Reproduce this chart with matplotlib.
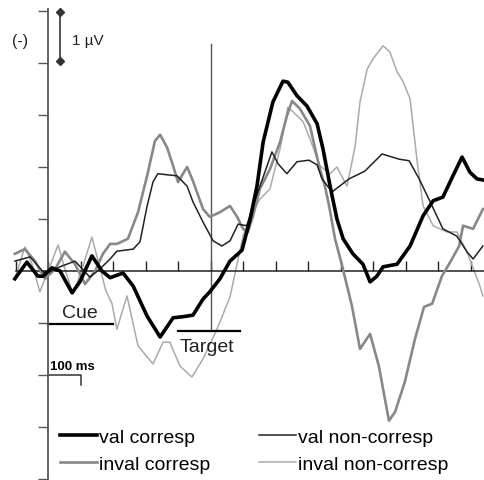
import numpy as np
import matplotlib
matplotlib.use("Agg")
import matplotlib.pyplot as plt

plt.rcParams['font.family'] = ['Liberation Sans', 'DejaVu Sans']

# time in ms, amplitude in microvolts (negative plotted up)
t_val_corr = [-102, -65, -31, -15, 12, 37, 74, 98, 135, 166, 191, 231, 262, 305, 345, 385,
              415, 446, 477, 498, 529, 560, 597, 622, 643, 662, 692, 723, 738, 766, 797,
              828, 846, 868, 889, 908, 938, 969, 991, 1012, 1031, 1074, 1114, 1154, 1185,
              1215, 1246, 1274, 1298, 1320, 1338]
v_val_corr = [0.15, -0.17, 0.10, 0.10, -0.06, 0.00, 0.42, 0.21, -0.29, 0.00, 0.13, 0.04,
              0.29, 0.87, 1.27, 0.90, 0.88, 0.85, 0.54, 0.40, 0.15, -0.19, -0.40, -1.00,
              -1.63, -2.48, -3.25, -3.65, -3.63, -3.37, -3.17, -2.83, -2.35, -1.63, -1.00,
              -0.62, -0.33, -0.13, 0.21, 0.10, -0.08, -0.13, -0.48, -1.06, -1.35, -1.42,
              -1.83, -2.19, -1.90, -1.77, -1.75]

t_val_non = [-102, -55, -9, 37, 83, 129, 160, 191, 212, 262, 283, 305, 323, 338, 366, 397,
             428, 446, 477, 508, 535, 560, 585, 612, 631, 652, 674, 689, 708, 735, 766, 803,
             828, 843, 874, 926, 975, 1028, 1080, 1111, 1142, 1172, 1215, 1258, 1289, 1308,
             1338]
v_val_non = [-0.19, -0.27, 0.06, -0.08, -0.19, 0.12, -0.04, -0.23, -0.38, -0.42, -0.56,
             -1.25, -1.71, -1.87, -1.85, -1.83, -1.63, -1.33, -0.94, -0.58, -0.48, -0.58,
             -0.90, -0.87, -1.25, -1.63, -2.02, -2.29, -2.06, -1.87, -2.10, -2.13, -2.04,
             -1.77, -1.52, -1.77, -1.92, -2.25, -2.15, -2.12, -1.77, -1.38, -0.81, -0.67,
             -0.37, -0.23, -0.48]

t_inval_corr = [-102, -71, -40, -9, 22, 52, 83, 114, 145, 169, 191, 212, 246, 277, 305, 329,
                345, 366, 385, 400, 428, 446, 477, 498, 529, 560, 582, 600, 615, 631, 652,
                683, 714, 735, 751, 775, 806, 834, 852, 865, 883, 905, 935, 960, 991, 1018,
                1049, 1068, 1098, 1129, 1157, 1182, 1212, 1243, 1265, 1277, 1308, 1338]
v_inval_corr = [-0.33, -0.42, -0.19, 0.15, -0.04, -0.37, -0.13, 0.25, 0.00, -0.33, -0.52,
                -0.52, -0.62, -1.13, -1.83, -2.50, -2.62, -2.38, -2.02, -1.71, -2.00, -1.73,
                -1.19, -1.04, -1.13, -1.25, -1.04, -0.81, -0.75, -1.06, -1.58, -1.96, -2.48,
                -2.98, -3.27, -3.12, -2.79, -2.02, -1.63, -1.25, -0.62, -0.10, 0.67, 1.50,
                1.21, 1.83, 2.88, 2.71, 2.13, 1.31, 0.69, 0.63, 0.10, -0.23, -0.48, -0.87,
                -0.81, -1.19]

t_inval_non = [-102, -71, -49, -25, 3, 31, 52, 77, 105, 135, 157, 178, 197, 212, 243, 277,
               323, 354, 375, 406, 443, 477, 520, 560, 585, 600, 622, 652, 683, 714, 738,
               754, 785, 806, 837, 868, 889, 920, 945, 960, 982, 1000, 1031, 1052, 1074,
               1092, 1114, 1135, 1154, 1185, 1228, 1258, 1289, 1329, 1338]
v_inval_non = [0.15, -0.46, -0.13, 0.40, -0.04, -0.50, -0.04, 0.44, -0.04, -0.65, -0.13,
               0.38, 0.63, 1.12, 0.48, 1.44, 1.79, 1.37, 1.37, 1.83, 2.04, 1.69, 1.12, 0.50,
               -0.23, -0.67, -1.06, -1.38, -1.58, -2.35, -3.15, -3.06, -2.87, -2.54, -2.02,
               -1.87, -2.00, -1.63, -2.40, -3.25, -3.88, -4.08, -4.33, -4.21, -3.83, -3.65,
               -3.31, -2.15, -1.25, -0.87, -0.75, -0.75, -0.37, 0.29, 0.48]

cue = (0, 200, 1.02)
target = (400, 590, 1.15)

fig = plt.figure(figsize=(4.84, 4.81), dpi=100)
ax = fig.add_axes([0, 0, 1, 1])
ax.set_xlim(-147.7, 1341.5)
ax.set_ylim(4.02, -5.23)

ax.plot(t_val_corr, v_val_corr, color='black', lw=2.6, label='val corresp',
        solid_joinstyle='round', zorder=5)
ax.plot(t_inval_corr, v_inval_corr, color='#888888', lw=1.9, label='inval corresp',
        solid_joinstyle='round', zorder=3)
ax.plot(t_val_non, v_val_non, color='#222222', lw=1.1, label='val non-corresp',
        solid_joinstyle='round', zorder=4)
ax.plot(t_inval_non, v_inval_non, color='#aaaaaa', lw=1.1, label='inval non-corresp',
        solid_joinstyle='round', zorder=2)

# axes through zero
for s in ['top', 'right']:
    ax.spines[s].set_visible(False)
ax.spines['left'].set_position(('data', 0))
ax.spines['left'].set_bounds(-5.04, 4.02)
ax.spines['left'].set_color('#555555')
ax.spines['left'].set_linewidth(1.3)
ax.spines['bottom'].set_position(('data', 0))
ax.spines['bottom'].set_bounds(-100, 1341)
ax.spines['bottom'].set_color('#222222')
ax.spines['bottom'].set_linewidth(1.1)
ax.set_yticks(np.arange(-5, 5, 1))
ax.set_xticks(np.arange(-100, 1400, 100))
ax.tick_params(axis='y', direction='out', length=7.2, width=1.0, color='#555555',
               labelleft=False)
ax.tick_params(axis='x', direction='in', length=7.2, width=1.0, color='#222222',
               labelbottom=False)

# target onset marker
ax.plot([500, 500], [-4.37, 1.15], color='#555555', lw=1.0)

# cue and target bars
ax.plot(cue[:2], [cue[2]] * 2, color='black', lw=1.6)
ax.plot(target[:2], [target[2]] * 2, color='black', lw=1.6)
ax.text(98, 0.88, 'Cue', fontsize=14, ha='center', va='baseline', color='#222222')
ax.text(404, 1.28, 'Target', fontsize=14, ha='left', va='top', color='#222222')

# scale bars
ax.plot([37, 37], [-4.98, -4.04], color='#333333', lw=1.2, marker='D', markersize=4)
ax.text(75, -4.44, '1 µV', fontsize=11, ha='left', va='center', color='#222222')
ax.text(-111, -4.44, '(-)', fontsize=11.5, ha='left', va='center', color='#222222')
ax.plot([0, 100, 100], [2.0, 2.0, 2.2], color='#333333', lw=1.1)
ax.text(6, 1.88, '100 ms', fontsize=9.5, fontweight='bold', ha='left', va='baseline')

ax.legend(ncol=2, loc='upper left', bbox_to_anchor=(0.124, 0.108), frameon=False,
          fontsize=14, handlelength=1.9, handletextpad=0.1, columnspacing=2.5,
          labelspacing=0.5, borderaxespad=0, borderpad=0)

fig.savefig('out.png', dpi=100)
